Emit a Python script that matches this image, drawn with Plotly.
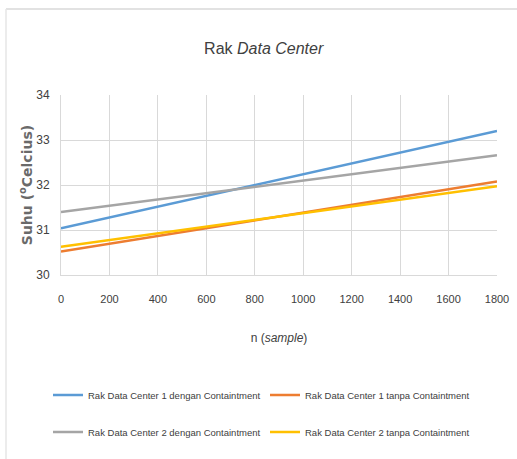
import plotly.graph_objects as go

x_vals = [0, 1800]
series_names = [
    "Rak Data Center 1 dengan Containtment",
    "Rak Data Center 1 tanpa Containtment",
    "Rak Data Center 2 dengan Containtment",
    "Rak Data Center 2 tanpa Containtment",
]
rdc1_dengan = [31.04, 33.2]
rdc1_tanpa = [30.52, 32.08]
rdc2_dengan = [31.40, 32.66]
rdc2_tanpa = [30.63, 31.97]
colors = ["#5b9bd5", "#ed7d31", "#a5a5a5", "#ffc000"]
legend_ids = ["legend", "legend", "legend2", "legend2"]

FONT = "Liberation Sans, Arial, sans-serif"

fig = go.Figure()
for name, ys, c, lg in zip(series_names, [rdc1_dengan, rdc1_tanpa, rdc2_dengan, rdc2_tanpa], colors, legend_ids):
    fig.add_trace(go.Scatter(x=x_vals, y=ys, mode="lines", name=name,
                             line=dict(color=c, width=2.5), legend=lg))

W, H = 517, 459
L, R, T, B = 61, 20, 95, 184
pw, ph = W - L - R, H - T - B

def px_x(p):
    return (p - L) / pw

def px_y(p):
    return (H - B - p) / ph

legend_common = dict(orientation="h", xref="container", yref="container",
                     xanchor="left", yanchor="middle",
                     entrywidth=172, entrywidthmode="pixels",
                     font=dict(size=9.5, color="#404040"),
                     bgcolor="rgba(0,0,0,0)", itemwidth=30, tracegroupgap=0)

fig.update_layout(
    width=W, height=H,
    margin=dict(l=L, r=R, t=T, b=B, autoexpand=False),
    paper_bgcolor="white", plot_bgcolor="white",
    font=dict(family=FONT, color="#595959", size=11),
    title=dict(text="Rak <i>Data Center</i>", x=0.51, xanchor="center", xref="container",
               y=1 - 48 / H, yanchor="middle", yref="container",
               font=dict(family=FONT, size=16, color="#404040")),
    xaxis=dict(range=[0, 1800], tickvals=list(range(0, 1801, 200)), showgrid=True,
               gridcolor="#d9d9d9", gridwidth=1, zeroline=False, showline=True, linecolor="#d9d9d9",
               ticks="", tickfont=dict(size=11, color="#404040"), automargin=False, ticklabelstandoff=14,
               title=dict(text="n (<i>sample</i>)", font=dict(size=12, color="#404040"), standoff=29)),
    yaxis=dict(range=[30, 34], tickvals=[30, 31, 32, 33, 34], showgrid=True,
               gridcolor="#d9d9d9", gridwidth=1, zeroline=False, showline=True, linecolor="#d9d9d9",
               ticks="", tickfont=dict(size=12, color="#404040"), ticklabelstandoff=8, automargin=False,
               title=dict(text="Suhu (<sup>o</sup>Celcius)",
                          font=dict(family="DejaVu Sans", size=14, color="#6a6a6a", weight="bold"),
                          standoff=0)),
    legend=dict(legend_common, x=48 / W, y=1 - 395 / H),
    legend2=dict(legend_common, x=48 / W, y=1 - 432 / H),
    shapes=[
        dict(type="line", xref="paper", yref="paper", x0=px_x(6), x1=px_x(517), y0=px_y(9), y1=px_y(9),
             line=dict(color="#d9d9d9", width=1.5)),
        dict(type="line", xref="paper", yref="paper", x0=px_x(6), x1=px_x(6), y0=px_y(9), y1=px_y(459),
             line=dict(color="#e6e6e6", width=1.5)),
    ],
)

fig.write_html("out.html", config={"displayModeBar": False},
               post_script="document.body.style.margin='0';")
